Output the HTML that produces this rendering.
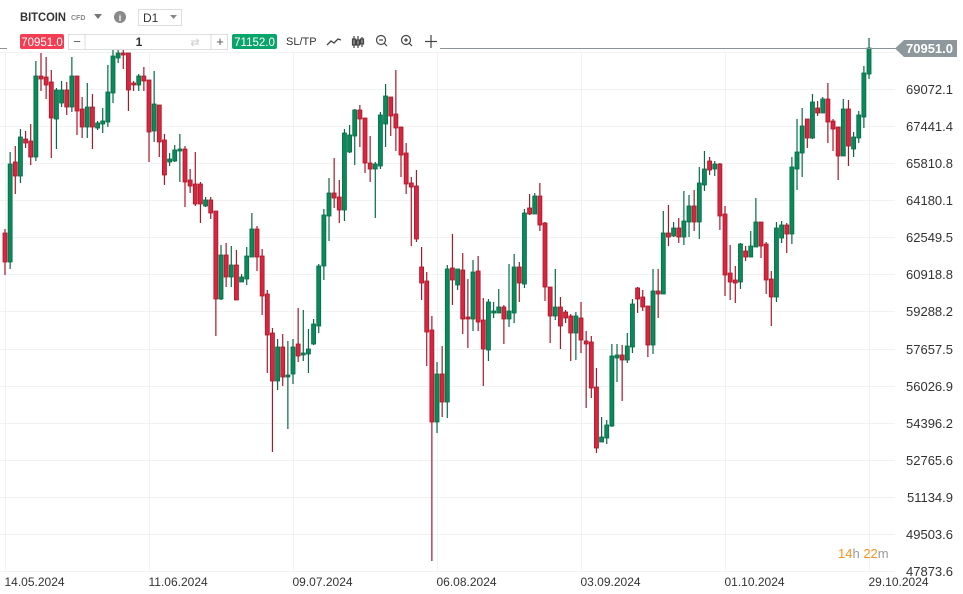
<!DOCTYPE html>
<html><head><meta charset="utf-8">
<style>
body{margin:0;background:#fff;width:963px;height:594px;overflow:hidden;font-family:"Liberation Sans",sans-serif;}
svg{position:absolute;left:0;top:0}
.t{font-family:"Liberation Sans",sans-serif}
</style></head><body>
<svg id="s" width="963" height="594" xmlns="http://www.w3.org/2000/svg">
<g id="grid" stroke="#f2f2f2" stroke-width="1"></g>
<g id="c"></g>
<line x1="440" y1="48.5" x2="900" y2="48.5" stroke="#8a9399" stroke-width="1"/>
<line x1="0" y1="48.5" x2="7" y2="48.5" stroke="#8a9399" stroke-width="1"/>
<polygon points="895,48.5 904,40 957,40 957,57 904,57" fill="#8e979c"/>
<text x="953" y="53" text-anchor="end" fill="#fff" font-size="13" font-weight="bold" class="t">70951.0</text>
<g id="lab" font-size="13" fill="#333" text-anchor="end" class="t"></g>
<g id="dl" font-size="12" fill="#333" class="t"></g>
<!-- toolbar -->
<text x="20" y="21" font-size="12" font-weight="bold" fill="#333" class="t" textLength="46" lengthAdjust="spacingAndGlyphs">BITCOIN</text>
<text x="71" y="20" font-size="7" font-weight="bold" fill="#888" class="t">CFD</text>
<polygon points="94,14 102,14 98,19" fill="#777"/>
<circle cx="120" cy="17" r="6" fill="#888"/>
<text x="120" y="21" font-size="9" font-weight="bold" fill="#fff" text-anchor="middle" class="t">i</text>
<rect x="138.5" y="9.5" width="43" height="16" fill="#fff" stroke="#ddd"/>
<text x="143" y="22" font-size="12" fill="#333" class="t">D1</text>
<polygon points="170,15 177,15 173.5,19" fill="#888"/>
<rect x="20" y="34" width="44" height="15" rx="2" fill="#f23d52"/>
<text x="42" y="46" font-size="11.5" fill="#fff" text-anchor="middle" class="t">70951.0</text>
<rect x="68.5" y="34.5" width="159" height="15" fill="#fff" stroke="#ddd"/>
<line x1="85" y1="35" x2="85" y2="49" stroke="#ddd"/>
<line x1="211" y1="35" x2="211" y2="49" stroke="#ddd"/>
<text x="77" y="46" font-size="13" fill="#555" text-anchor="middle" class="t">−</text>
<text x="139" y="46" font-size="12" font-weight="bold" fill="#333" text-anchor="middle" class="t">1</text>
<text x="195" y="46" font-size="11" fill="#ccc" text-anchor="middle" class="t">⇄</text>
<text x="220" y="46" font-size="13" fill="#555" text-anchor="middle" class="t">+</text>
<rect x="232" y="34" width="45" height="15" rx="2" fill="#0aa56a"/>
<text x="254.5" y="46" font-size="11.5" fill="#fff" text-anchor="middle" class="t">71152.0</text>
<text x="286" y="45" font-size="11" fill="#333" class="t">SL/TP</text>
<polyline points="327,45 331,41 334,43 338,39 341,40" fill="none" stroke="#444" stroke-width="1.3"/>
<g stroke="#444" stroke-width="1.2" fill="none">
<line x1="354" y1="36" x2="354" y2="48"/><rect x="352.5" y="39" width="3" height="6"/>
<line x1="358" y1="36" x2="358" y2="48"/><rect x="356.5" y="40" width="3" height="5"/>
<line x1="362" y1="37" x2="362" y2="47"/><rect x="360.5" y="39" width="3" height="5"/>
<circle cx="381" cy="40" r="4.5"/><line x1="384" y1="43" x2="387" y2="46"/><line x1="379" y1="40" x2="383" y2="40"/>
<circle cx="406" cy="40" r="4.5"/><line x1="409" y1="43" x2="412" y2="46"/><line x1="404" y1="40" x2="408" y2="40"/><line x1="406" y1="38" x2="406" y2="42"/>
<line x1="431" y1="35" x2="431" y2="48"/><line x1="425" y1="41.5" x2="437" y2="41.5"/>
</g>
<text x="838" y="558" font-size="13" class="t"><tspan fill="#f7931a">14</tspan><tspan fill="#999">h </tspan><tspan fill="#f7931a">22</tspan><tspan fill="#999">m</tspan></text>
</svg>
<script>
var D="r,233,262,229,275;g,164,262,152,269;r,162,176,146,194;g,137,176,129,183;r,139,143,131,148;r,141,157,124,165;g,76,157,61,161;r,76,79,53,91;r,77,85,57,99;r,82,118,70,158;g,90,119,88,149;g,90,103,81,107;r,90,107,82,115;g,76,107,57,112;r,76,111,76,135;r,109,127,97,138;g,107,127,83,138;r,107,127,94,149;g,123,128,121,130;g,121,124,108,133;g,92,122,65,127;g,56,93,50,103;g,53,58,50,63;r,53,55,50,69;r,53,90,53,111;r,83,85,81,91;g,76,85,74,91;r,76,81,67,91;r,80,132,80,162;g,104,131,71,142;r,105,142,105,157;r,140,175,134,185;g,159,162,153,166;g,150,161,145,162;g,149,151,134,182;r,149,182,146,207;r,180,186,169,193;r,184,204,152,206;r,184,204,182,223;g,200,206,197,207;r,200,213,197,219;r,211,299,211,336;g,255,299,245,300;r,255,277,243,287;g,265,277,246,287;r,265,300,250,300;g,277,282,274,282;g,256,279,247,285;g,229,257,213,257;r,229,257,226,271;r,256,296,249,315;r,294,335,290,373;r,333,381,328,452;g,347,381,339,390;r,347,377,334,386;g,375,377,341,429;g,347,374,339,384;r,344,356,308,362;g,353,355,310,361;g,349,354,329,373;g,324,344,319,345;g,266,326,264,333;g,215,266,209,280;g,193,216,178,241;r,193,198,158,208;r,197,210,180,223;g,133,210,129,221;g,135,152,125,153;g,110,136,109,165;r,110,119,105,147;r,118,163,118,173;r,163,169,136,182;g,164,169,162,218;g,115,166,112,169;g,96,124,84,147;r,97,116,97,136;r,114,128,70,151;r,127,155,127,177;r,153,184,143,194;r,183,187,177,246;r,186,239,170,242;r,267,283,247,300;r,281,332,272,366;r,330,422,316,561;g,374,422,362,433;r,374,402,346,417;g,269,402,265,418;r,268,280,234,305;g,269,285,269,290;r,270,319,253,334;r,317,319,279,348;g,272,319,260,331;r,271,322,256,331;r,320,349,298,386;g,302,350,299,361;g,311,313,302,318;g,307,313,289,313;r,307,319,305,344;g,311,319,264,327;g,267,313,254,323;r,267,283,262,302;g,213,284,209,288;r,208,214,194,215;g,196,214,193,214;r,196,225,183,231;r,223,287,222,301;r,287,316,287,343;g,307,316,269,320;r,307,326,297,349;r,312,318,310,323;r,316,333,314,361;g,316,333,312,360;r,318,340,302,353;r,341,344,331,408;r,342,388,336,398;r,387,448,368,453;g,437,442,417,442;g,425,438,420,444;g,356,426,344,427;g,355,358,344,382;r,355,360,345,401;g,346,360,333,363;g,304,347,299,353;r,288,299,287,313;r,297,307,290,311;r,306,345,306,357;g,291,345,269,354;r,291,294,269,318;g,233,294,211,294;r,233,237,205,246;g,228,236,222,237;r,228,237,218,243;g,221,237,191,245;g,206,222,195,237;r,206,222,190,231;g,183,222,167,239;g,169,185,151,191;r,161,170,157,175;g,164,169,161,176;r,164,216,163,230;r,214,275,206,296;r,273,282,245,300;r,280,283,266,303;g,244,282,243,289;r,251,257,246,261;g,246,257,231,257;g,222,247,198,247;r,222,246,222,258;r,244,280,242,294;r,279,297,271,326;g,228,297,222,302;g,225,238,221,243;r,225,234,223,253;g,167,234,157,244;g,152,169,119,190;g,126,153,108,177;r,119,138,119,148;g,102,138,94,139;r,108,113,101,116;g,99,113,97,113;r,99,122,83,143;r,121,129,119,151;r,127,156,127,180;g,109,156,99,156;r,109,146,100,166;g,137,149,132,157;g,115,138,111,143;g,73,117,66,128;g,48,74,38,79";
var s="";
D.split(";").forEach(function(r,i){var a=r.split(","),x=5+5.143*i,col=a[0]=="g"?"#0a8a5a":"#d7263d",bd=a[0]=="g"?"#066b45":"#a8182b";
var t=+a[1],b=+a[2];if(b-t<2)b=t+2;
s+='<line x1="'+x+'" y1="'+a[3]+'" x2="'+x+'" y2="'+a[4]+'" stroke="'+bd+'" stroke-width="1.2"/>';
s+='<rect x="'+(x-2)+'" y="'+t+'" width="4" height="'+(b-t)+'" fill="'+col+'" stroke="'+bd+'" stroke-width="0.8"/>';});
document.getElementById("c").innerHTML=s;
var g="",L="",labs=["70702.8","69072.1","67441.4","65810.8","64180.1","62549.5","60918.8","59288.2","57657.5","56026.9","54396.2","52765.6","51134.9","49503.6","47873.6"];
for(var k=0;k<15;k++){var y=Math.round(53+37.07*k)-0.5;g+='<line x1="0" y1="'+y+'" x2="895" y2="'+y+'"/>';if(k>0)L+='<text x="953" y="'+(y+4.5)+'">'+labs[k]+'</text>';}
var dates=["14.05.2024","11.06.2024","09.07.2024","06.08.2024","03.09.2024","01.10.2024","29.10.2024"];
var DL="";
for(var j=0;j<7;j++){var x=5+144*j+0.5;g+='<line x1="'+x+'" y1="53" x2="'+x+'" y2="570"/>';DL+='<text x="'+(x-1)+'" y="586">'+dates[j]+'</text>';}
document.getElementById("grid").innerHTML=g;document.getElementById("lab").innerHTML=L;document.getElementById("dl").innerHTML=DL;
</script>
</body></html>
